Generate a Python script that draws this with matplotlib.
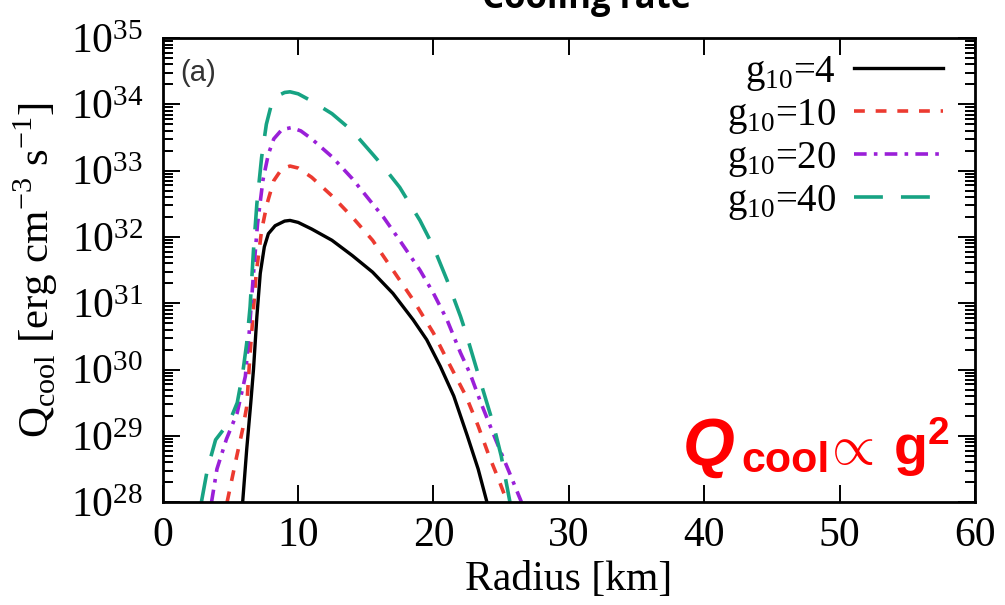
import numpy as np
import matplotlib
matplotlib.use('Agg')
from matplotlib import pyplot as plt

plt.rcParams['font.family'] = ['Liberation Serif', 'DejaVu Serif']
plt.rcParams['mathtext.fontset'] = 'custom'
plt.rcParams['mathtext.rm'] = 'Liberation Serif'
plt.rcParams['mathtext.it'] = 'Liberation Sans:italic:bold'
plt.rcParams['mathtext.bf'] = 'Liberation Sans:bold'
plt.rcParams['mathtext.sf'] = 'Liberation Sans'

# values: radius [km] and log10(Q_cool)
r_g4 = [5.9, 6.2, 6.5, 6.7, 6.95, 7.2, 7.5, 7.8, 8.3, 9.0, 9.4, 10.0, 11.0, 12.5,
        14.0, 15.5, 17.0, 18.5, 19.5, 20.5, 21.5, 22.5, 23.3, 23.95]
lq_g4 = [28.0, 28.8, 29.5, 30.0, 30.8, 31.45, 31.85, 32.05, 32.17, 32.24, 32.25, 32.22,
         32.12, 31.95, 31.72, 31.47, 31.15, 30.75, 30.45, 30.05, 29.6, 29.0, 28.5, 28.0]

r_g10 = [4.75, 5.45, 5.9, 6.2, 6.43, 6.9, 7.3, 7.7, 8.2, 8.8, 9.4, 10.0, 11.0, 12.5,
         14.0, 15.5, 17.0, 18.5, 20.0, 21.0, 22.4, 23.3, 24.1, 24.8, 25.45]
lq_g10 = [28.0, 28.68, 29.1, 29.44, 30.19, 31.45, 32.1, 32.5, 32.85, 33.03, 33.07, 33.04,
          32.9, 32.62, 32.3, 31.95, 31.5, 31.05, 30.55, 30.15, 29.6, 29.15, 28.7, 28.35, 28.0]

r_g20 = [3.6, 4.0, 4.7, 5.5, 6.1, 6.4, 6.7, 7.0, 7.4, 7.8, 8.2, 8.8, 9.5, 10.2, 11.0,
         12.5, 14.0, 15.5, 16.3, 17.5, 19.0, 20.0, 21.0, 22.0, 22.7, 23.5, 24.6, 25.6, 26.5]
lq_g20 = [28.0, 28.5, 28.95, 29.35, 29.9, 30.6, 31.45, 32.2, 32.86, 33.25, 33.48, 33.62,
          33.65, 33.6, 33.48, 33.21, 32.88, 32.5, 32.3, 31.95, 31.5, 31.15, 30.75, 30.25,
          29.94, 29.5, 28.94, 28.45, 28.0]

r_g40 = [2.85, 3.3, 3.9, 4.5, 5.0, 5.5, 5.9, 6.2, 6.45, 6.7, 6.95, 7.3, 7.65, 8.0, 8.4,
         9.0, 9.4, 10.0, 11.0, 12.5, 14.0, 15.5, 16.3, 17.5, 19.0, 20.0, 21.0, 22.0, 22.4,
         23.2, 24.4, 25.0, 25.65]
lq_g40 = [28.0, 28.5, 28.94, 29.1, 29.25, 29.5, 29.94, 30.4, 30.95, 31.8, 32.5, 33.2, 33.7,
          33.98, 34.12, 34.18, 34.19, 34.16, 34.05, 33.86, 33.6, 33.25, 33.06, 32.75, 32.25,
          31.85, 31.35, 30.8, 30.55, 30.0, 29.19, 28.7, 28.0]

labels = [r'g$_{10}$=4', r'g$_{10}$=10', r'g$_{10}$=20', r'g$_{10}$=40']
x_ticks = [0, 10, 20, 30, 40, 50, 60]
decades = list(range(28, 36))
minor_y = [m * 10.0 ** k for k in decades[:-1] for m in range(2, 10)]

fig = plt.figure(figsize=(10.05, 6.05), dpi=100)
ax = fig.add_axes([0.162, 0.170, 0.808, 0.767])

ax.plot(r_g4, 10 ** np.array(lq_g4), color='black', lw=2.4, ls='-', label=labels[0])
ax.plot(r_g10, 10 ** np.array(lq_g10), color='#ec3a30', lw=2.6, ls=(0, (3, 3)), label=labels[1])
ax.plot(r_g20, 10 ** np.array(lq_g20), color='#9a1fd8', lw=2.6, ls=(0, (3.5, 2, 1, 2)), label=labels[2])
ax.plot(r_g40, 10 ** np.array(lq_g40), color='#17a383', lw=2.6, ls=(0, (8, 5)), label=labels[3])

ax.set_yscale('log')
ax.set_xlim(0, 60)
ax.set_ylim(1e28, 1e35)
ax.set_xticks(x_ticks)
ax.set_yticks([10.0 ** k for k in decades])
ax.set_yticks(minor_y, minor=True)

ax.tick_params(axis='x', which='major', direction='in', length=12, width=1.4, top=True,
               bottom=True, labelsize=30, pad=10)
ax.tick_params(axis='x', which='minor', top=False, bottom=False)
ax.tick_params(axis='y', which='major', direction='in', length=12, width=1.4, left=True,
               right=True, labelsize=30, pad=14)
ax.tick_params(axis='y', which='minor', direction='in', length=7, width=1.4, left=True, right=True)
for s in ax.spines.values():
    s.set_linewidth(2.0)

# inward minor ticks drawn as short segments on the y scale (axes-fraction x)
tick_frac = 7 / 812
ytr = ax.get_yaxis_transform()
ax.hlines(minor_y, 0, tick_frac, transform=ytr, color='black', lw=1.4, clip_on=False, zorder=3)
ax.hlines(minor_y, 1 - tick_frac, 1, transform=ytr, color='black', lw=1.4, clip_on=False, zorder=3)

ax.set_xlabel('Radius [km]', fontsize=30, labelpad=4)
ax.set_ylabel(r'Q$_{\mathrm{cool}}$ [erg cm$^{\mathrm{-3}}$ s$^{\mathrm{-1}}$]', fontsize=31, labelpad=8)

ax.legend(loc='upper right', bbox_to_anchor=(1 - 24 / 812, 1 - 8 / 464), frameon=False,
          markerfirst=False, fontsize=28, handlelength=2.3, labelspacing=0.1,
          borderaxespad=0, borderpad=0.2, handletextpad=0.45)

ax.text(0.022, 0.925, '(a)', transform=ax.transAxes, fontsize=21, color='#333333',
        family='Liberation Sans', va='center', ha='left')

# red annotation, built from three pieces so Q can be larger than its subscript
red = '#ff0000'
fig.text(683 / 1005, 1 - 465 / 605, 'Q', fontsize=48, color=red, family='Liberation Sans',
         fontweight='bold', style='italic', va='baseline', ha='left')
fig.text(741 / 1005, 1 - 472 / 605, 'cool', fontsize=31, color=red, family='Liberation Sans',
         fontweight='bold', va='baseline', ha='left')
fig.text(822 / 1005, 1 - 465 / 605, r'$\propto\,\mathbf{g}^{\mathbf{2}}$', fontsize=40, color=red,
         va='baseline', ha='left')

fig.text(0.584, 1 - 8 / 605, 'Cooling rate', fontsize=25, fontweight='bold',
         family='Open Sans', ha='center', va='baseline')

fig.savefig('out.png', dpi=100)
